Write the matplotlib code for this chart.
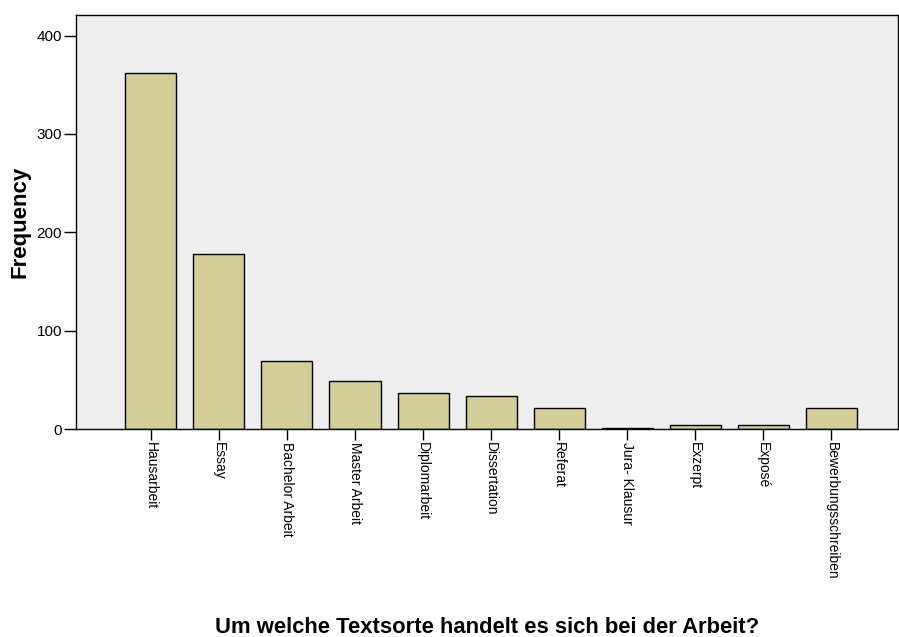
import numpy as np
import matplotlib.pyplot as plt

plt.rcParams['font.family'] = ['Liberation Sans', 'DejaVu Sans']

# Kategorien und Häufigkeiten
kategorien = ["Hausarbeit", "Essay", "Bachelor Arbeit", "Master Arbeit", "Diplomarbeit",
              "Dissertation", "Referat", "Jura- Klausur", "Exzerpt", "Exposé",
              "Bewerbungsschreiben"]
haeufigkeit = [362, 178, 69, 49, 37, 34, 21, 1, 4, 4, 21]
y_ticks = [0, 100, 200, 300, 400]

fig = plt.figure(figsize=(8.99, 6.37), dpi=100)
ax = fig.add_axes([0.0845, 0.3265, 0.9145, 0.65])
ax.set_facecolor('#efefef')

x = np.arange(len(kategorien))
ax.bar(x, haeufigkeit, width=0.75, color='#d3ce97', edgecolor='black', linewidth=1.0, zorder=2)

ax.set_xlim(-1.1, 10.98)
ax.set_ylim(0, 421)
ax.set_yticks(y_ticks)
ax.set_yticklabels([str(v) for v in y_ticks], fontsize=11)
ax.set_xticks(x)
ax.set_xticklabels(kategorien, rotation=270, fontsize=10, ha='center', va='top')

ax.tick_params(axis='y', length=9, width=1.0, pad=1)
ax.tick_params(axis='x', length=8, width=1.0, pad=1)
for s in ax.spines.values():
    s.set_linewidth(1.0)

ax.set_ylabel("Frequency", fontsize=16, fontweight='bold')
ax.yaxis.set_label_coords(-0.055, 0.5)
ax.set_xlabel("Um welche Textsorte handelt es sich bei der Arbeit?", fontsize=15.8, fontweight='bold')
ax.xaxis.set_label_coords(0.5, -0.455)

fig.savefig("out.png", dpi=100)
